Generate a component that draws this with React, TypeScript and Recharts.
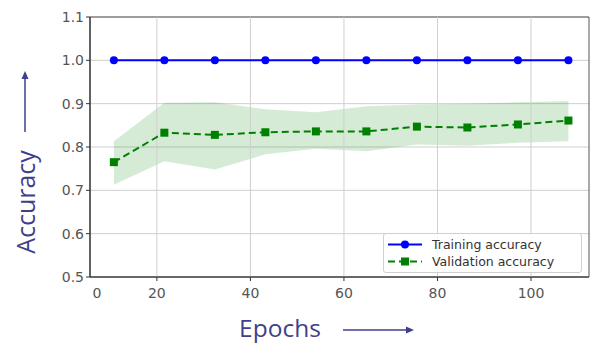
import React from 'react'
import { ComposedChart, Line, Area, XAxis, YAxis, CartesianGrid, ReferenceLine, ReferenceArea } from 'recharts'

const epochs = [10.8, 21.6, 32.4, 43.2, 54, 64.8, 75.6, 86.4, 97.2, 108]
const trainAcc = [1.0, 1.0, 1.0, 1.0, 1.0, 1.0, 1.0, 1.0, 1.0, 1.0]
const valAcc = [0.765, 0.833, 0.828, 0.834, 0.836, 0.836, 0.847, 0.845, 0.852, 0.861]
const valLow = [0.713, 0.767, 0.748, 0.783, 0.796, 0.79, 0.806, 0.803, 0.81, 0.813]
const valHigh = [0.813, 0.902, 0.903, 0.887, 0.88, 0.894, 0.898, 0.9, 0.903, 0.906]

const xTicks = [7.2, 20, 40, 60, 80, 100]
const xTickLabels = ['0', '20', '40', '60', '80', '100']
const xGrid = [20, 40, 60, 80, 100]
const yTicks = [0.5, 0.6, 0.7, 0.8, 0.9, 1.0, 1.1]
const seriesNames = ['Training accuracy', 'Validation accuracy']

const data = epochs.map((e, i) => ({
  epoch: e,
  train: trainAcc[i],
  val: valAcc[i],
  band: [valLow[i], valHigh[i]],
}))

const labelColor = '#3f3f8c'

const XTick = (props: any) => {
  const { x, y, payload, index } = props
  return (
    <g>
      {index > 0 && <line x1={x} x2={x} y1={y - 8} y2={y - 4} stroke="#333" strokeWidth={1} />}
      <text x={x} y={y + 13} textAnchor="middle" fontSize={14} fill="#555" fontFamily="DejaVu Sans">
        {xTickLabels[xTicks.indexOf(payload.value)]}
      </text>
    </g>
  )
}

const AccLabel = () => (
  <g>
    <text
      x={25}
      y={202}
      transform="rotate(-90 25 202)"
      textAnchor="middle"
      dominantBaseline="central"
      fontSize={25}
      fill={labelColor}
      fontFamily="Open Sans"
    >
      Accuracy
    </text>
    <line x1={25} x2={25} y1={132} y2={78} stroke={labelColor} strokeWidth={1.5} />
    <polygon points="25,71 21.5,79 28.5,79" fill={labelColor} />
  </g>
)

const EpochLabel = () => (
  <g>
    <text x={280} y={337} textAnchor="middle" fontSize={24.5} fill={labelColor} fontFamily="Open Sans">
      Epochs
    </text>
    <line x1={343} x2={408} y1={330} y2={330} stroke={labelColor} strokeWidth={1.5} />
    <polygon points="414,330 406,326.5 406,333.5" fill={labelColor} />
  </g>
)

const SquareDot = (p: any) => (
  <rect key={`sq-${p.index}`} x={p.cx - 4} y={p.cy - 4} width={8} height={8} fill="#008000" />
)

const LegendBox = () => (
  <div
    style={{
      position: 'absolute',
      left: 383,
      top: 233,
      width: 199,
      boxSizing: 'border-box',
      border: '1px solid #d0d0d0',
      borderRadius: 3,
      background: 'rgba(255,255,255,0.85)',
      padding: '2px 6px 2px 2px',
      fontFamily: 'DejaVu Sans',
      fontSize: 12.5,
      color: '#333',
      lineHeight: '17px',
    }}
  >
    <div style={{ display: 'flex', alignItems: 'center' }}>
      <svg width={40} height={17}>
        <line x1={2} x2={36} y1={8.5} y2={8.5} stroke="#0000ff" strokeWidth={2} />
        <circle cx={19} cy={8.5} r={4} fill="#0000ff" />
      </svg>
      <span style={{ marginLeft: 6 }}>{seriesNames[0]}</span>
    </div>
    <div style={{ display: 'flex', alignItems: 'center' }}>
      <svg width={40} height={17}>
        <line x1={2} x2={36} y1={8.5} y2={8.5} stroke="#008000" strokeWidth={2} strokeDasharray="7 4" />
        <rect x={15} y={4.5} width={8} height={8} fill="#008000" />
      </svg>
      <span style={{ marginLeft: 6 }}>{seriesNames[1]}</span>
    </div>
  </div>
)

export default function App() {
  return (
    <div style={{ position: 'absolute', left: 0, top: 0, width: 593, height: 344, background: '#fff' }}>
      <ComposedChart width={593} height={344} data={data} margin={{ top: 17, right: 4, bottom: 37, left: 0 }}>
        <CartesianGrid vertical={false} stroke="#cfcfcf" strokeWidth={1} />
        {xGrid.map((v) => (
          <ReferenceLine key={v} x={v} stroke="#cfcfcf" strokeWidth={1} />
        ))}
        <XAxis
          type="number"
          dataKey="epoch"
          domain={[5.7, 112.4]}
          ticks={xTicks}
          interval={0}
          height={30}
          tickLine={false}
          axisLine={{ stroke: '#333', strokeWidth: 1.2 }}
          tick={<XTick />}
          label={<EpochLabel />}
          allowDataOverflow
        />
        <YAxis
          type="number"
          domain={[0.5, 1.1]}
          ticks={yTicks}
          interval={0}
          width={90}
          tickFormatter={(v: number) => v.toFixed(1)}
          tick={{ fontSize: 14, fill: '#555', fontFamily: 'DejaVu Sans' }}
          tickSize={4}
          tickLine={{ stroke: '#333' }}
          axisLine={{ stroke: '#333', strokeWidth: 1.2 }}
          label={<AccLabel />}
          allowDataOverflow
        />
        <ReferenceArea x1={5.7} x2={112.4} y1={0.5} y2={1.1} fill="none" stroke="#555" strokeWidth={1} />
        <Area
          dataKey="band"
          name="Validation spread"
          fill="#008000"
          fillOpacity={0.16}
          stroke="none"
          isAnimationActive={false}
        />
        <Line
          dataKey="train"
          name={seriesNames[0]}
          stroke="#0000ff"
          strokeWidth={2}
          dot={{ r: 4, fill: '#0000ff', stroke: '#0000ff', strokeWidth: 0 }}
          isAnimationActive={false}
        />
        <Line
          dataKey="val"
          name={seriesNames[1]}
          stroke="#008000"
          strokeWidth={2}
          strokeDasharray="7 4"
          dot={SquareDot}
          isAnimationActive={false}
        />
      </ComposedChart>
      <LegendBox />
    </div>
  )
}
